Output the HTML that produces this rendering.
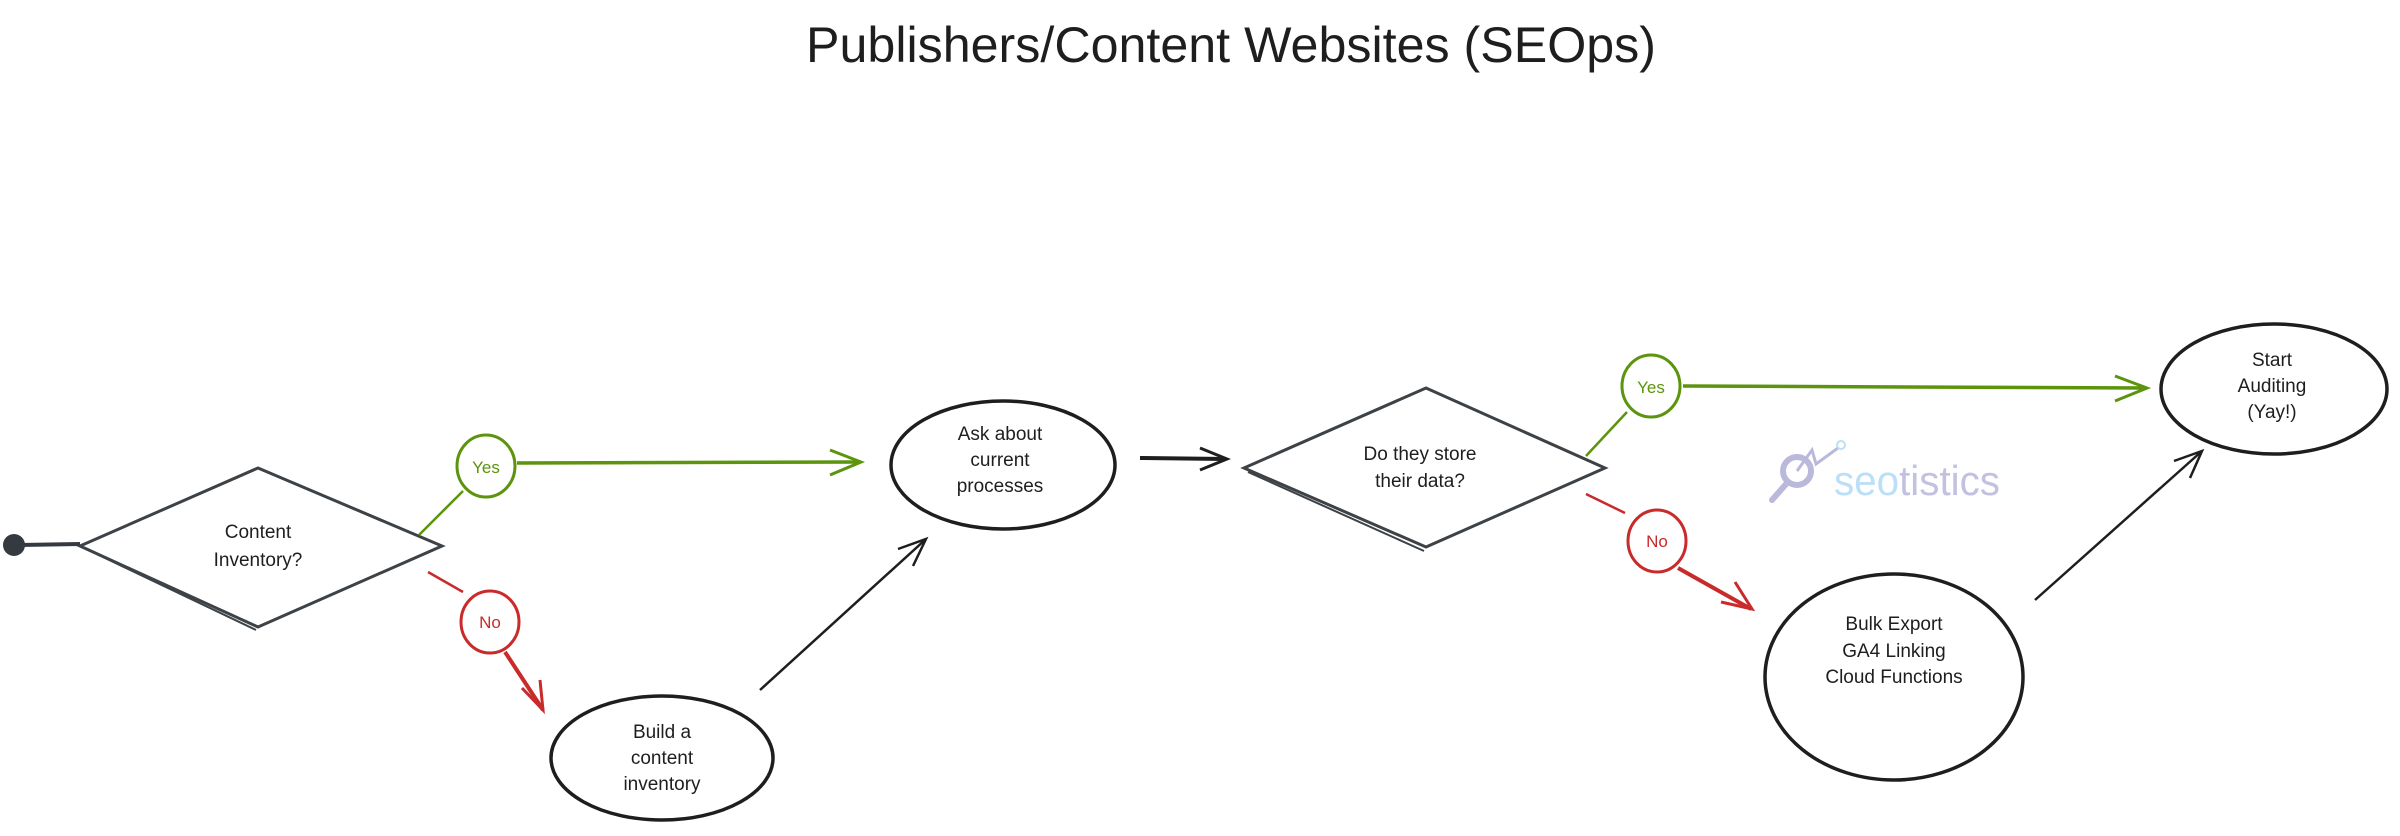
<!DOCTYPE html>
<html><head><meta charset="utf-8"><style>
html,body{margin:0;padding:0;background:#fff;}
svg{display:block;font-family:"Liberation Sans",sans-serif;}
</style></head><body>
<svg width="2400" height="836" viewBox="0 0 2400 836" xmlns="http://www.w3.org/2000/svg">
<rect width="2400" height="836" fill="#fff"/>
<text x="1231" y="62" font-size="50" text-anchor="middle" textLength="850" lengthAdjust="spacingAndGlyphs" fill="#1e1e1e">Publishers/Content Websites (SEOps)</text>

<!-- start dot -->
<circle cx="14" cy="545" r="11" fill="#343a40"/>
<line x1="20" y1="545" x2="80" y2="544" stroke="#343a40" stroke-width="4"/>

<!-- diamond 1 -->
<g fill="none" stroke="#3d4247" stroke-width="3">
<polygon points="80,546 258,468 442,546 258,627" transform="" />
</g>
<polygon points="80,546 258,468 442,546 258,627" fill="none" stroke="#3d4247" stroke-width="3" style="display:none"/>
<path d="M80,546 L258,468 M258,468 L442,546 M442,546 L258,627 M258,627 L80,546" fill="none" stroke="#3d4247" stroke-width="3" style="display:none"/>
<path d="M84,548 L256,630" fill="none" stroke="#3d4247" stroke-width="2"/>
<text x="258" y="538" font-size="19" text-anchor="middle" fill="#1e1e1e">Content</text>
<text x="258" y="566" font-size="19" text-anchor="middle" fill="#1e1e1e">Inventory?</text>

<!-- yes1 -->
<line x1="419" y1="535" x2="463" y2="491" stroke="#5c940d" stroke-width="2.5"/>
<ellipse cx="486" cy="466" rx="29" ry="31" fill="none" stroke="#5c940d" stroke-width="3"/>
<text x="486" y="473" font-size="17" text-anchor="middle" fill="#5c940d">Yes</text>
<line x1="517" y1="463" x2="860" y2="462" stroke="#5c940d" stroke-width="3.5"/>
<path d="M830,450 L861,462 L830,475" fill="none" stroke="#5c940d" stroke-width="3"/>

<!-- no1 -->
<line x1="428" y1="572" x2="463" y2="592" stroke="#c92a2a" stroke-width="2.5"/>
<ellipse cx="490" cy="622" rx="29" ry="31" fill="none" stroke="#c92a2a" stroke-width="3"/>
<text x="490" y="628" font-size="17" text-anchor="middle" fill="#c92a2a">No</text>
<line x1="505" y1="652" x2="543" y2="710" stroke="#c92a2a" stroke-width="4"/>
<path d="M522,688 L543,710 L540,680" fill="none" stroke="#c92a2a" stroke-width="3"/>

<!-- build -->
<ellipse cx="662" cy="758" rx="111" ry="62" fill="none" stroke="#1e1e1e" stroke-width="3.5"/>
<text x="662" y="738" font-size="19" text-anchor="middle" fill="#1e1e1e">Build a</text>
<text x="662" y="764" font-size="19" text-anchor="middle" fill="#1e1e1e">content</text>
<text x="662" y="790" font-size="19" text-anchor="middle" fill="#1e1e1e">inventory</text>
<line x1="760" y1="690" x2="926" y2="539" stroke="#1e1e1e" stroke-width="2.5"/>
<path d="M898,549 L926,539 L913,566" fill="none" stroke="#1e1e1e" stroke-width="2.5"/>

<!-- ask -->
<ellipse cx="1003" cy="465" rx="112" ry="64" fill="none" stroke="#1e1e1e" stroke-width="3.5"/>
<text x="1000" y="440" font-size="19" text-anchor="middle" fill="#1e1e1e">Ask about</text>
<text x="1000" y="466" font-size="19" text-anchor="middle" fill="#1e1e1e">current</text>
<text x="1000" y="492" font-size="19" text-anchor="middle" fill="#1e1e1e">processes</text>
<line x1="1140" y1="458" x2="1226" y2="459" stroke="#1e1e1e" stroke-width="4"/>
<path d="M1200,448 L1227,459 L1200,470" fill="none" stroke="#1e1e1e" stroke-width="3"/>

<!-- diamond 2 -->
<polygon points="1244,468 1426,388 1605,468 1426,547" fill="none" stroke="#3d4247" stroke-width="3"/>
<path d="M1248,472 L1424,551" fill="none" stroke="#3d4247" stroke-width="2"/>
<text x="1420" y="460" font-size="19" text-anchor="middle" fill="#1e1e1e">Do they store</text>
<text x="1420" y="487" font-size="19" text-anchor="middle" fill="#1e1e1e">their data?</text>

<!-- yes2 -->
<line x1="1586" y1="456" x2="1627" y2="412" stroke="#5c940d" stroke-width="2.5"/>
<ellipse cx="1651" cy="386" rx="29" ry="31" fill="none" stroke="#5c940d" stroke-width="3"/>
<text x="1651" y="393" font-size="17" text-anchor="middle" fill="#5c940d">Yes</text>
<line x1="1683" y1="386" x2="2146" y2="388" stroke="#5c940d" stroke-width="3.5"/>
<path d="M2115,376 L2147,388 L2115,401" fill="none" stroke="#5c940d" stroke-width="3"/>

<!-- no2 -->
<line x1="1586" y1="494" x2="1625" y2="513" stroke="#c92a2a" stroke-width="2.5"/>
<ellipse cx="1657" cy="541" rx="29" ry="31" fill="none" stroke="#c92a2a" stroke-width="3"/>
<text x="1657" y="547" font-size="17" text-anchor="middle" fill="#c92a2a">No</text>
<line x1="1678" y1="568" x2="1751" y2="609" stroke="#c92a2a" stroke-width="4"/>
<path d="M1721,602 L1752,609 L1735,582" fill="none" stroke="#c92a2a" stroke-width="3"/>

<!-- start auditing -->
<ellipse cx="2274" cy="389" rx="113" ry="65" fill="none" stroke="#1e1e1e" stroke-width="3.5"/>
<text x="2272" y="366" font-size="19" text-anchor="middle" fill="#1e1e1e">Start</text>
<text x="2272" y="392" font-size="19" text-anchor="middle" fill="#1e1e1e">Auditing</text>
<text x="2272" y="418" font-size="19" text-anchor="middle" fill="#1e1e1e">(Yay!)</text>

<!-- bulk -->
<ellipse cx="1894" cy="677" rx="129" ry="103" fill="none" stroke="#1e1e1e" stroke-width="3.5"/>
<text x="1894" y="630" font-size="19" text-anchor="middle" fill="#1e1e1e">Bulk Export</text>
<text x="1894" y="657" font-size="19" text-anchor="middle" fill="#1e1e1e">GA4 Linking</text>
<text x="1894" y="683" font-size="19" text-anchor="middle" fill="#1e1e1e">Cloud Functions</text>
<line x1="2035" y1="600" x2="2202" y2="451" stroke="#1e1e1e" stroke-width="2.5"/>
<path d="M2174,461 L2202,451 L2190,478" fill="none" stroke="#1e1e1e" stroke-width="2.5"/>

<!-- seotistics logo -->
<g opacity="0.8">
<circle cx="1797" cy="471" r="14" fill="none" stroke="#a9a8d4" stroke-width="6"/>
<line x1="1787" y1="483" x2="1772" y2="500" stroke="#a9a8d4" stroke-width="6" stroke-linecap="round"/>
<path d="M1797,471 L1812,450 L1816,464 L1838,448" fill="none" stroke="#a9a8d4" stroke-width="3"/>
<circle cx="1841" cy="445" r="4" fill="none" stroke="#a9d8f5" stroke-width="2"/>
<text x="1834" y="495" font-size="42" fill="#a9d8f5" textLength="166" lengthAdjust="spacingAndGlyphs">seo<tspan fill="#b3b2d8">tistics</tspan></text>
</g>
</svg>
</body></html>
